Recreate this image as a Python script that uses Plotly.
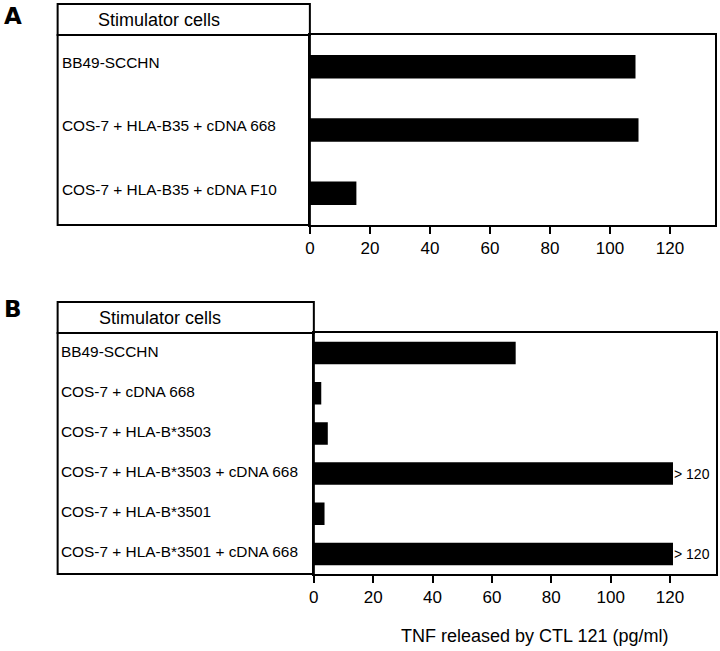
import plotly.graph_objects as go

# Panel A data
cells_a = ["BB49-SCCHN", "COS-7 + HLA-B35 + cDNA 668", "COS-7 + HLA-B35 + cDNA F10"]
tnf_a = [108.5, 109.5, 15.5]

# Panel B data
cells_b = ["BB49-SCCHN", "COS-7 + cDNA 668", "COS-7 + HLA-B*3503",
           "COS-7 + HLA-B*3503 + cDNA 668", "COS-7 + HLA-B*3501",
           "COS-7 + HLA-B*3501 + cDNA 668"]
tnf_b = [68, 2.5, 4.7, 121, 3.6, 121]
notes_b = ["", "", "", "> 120", "", "> 120"]

x_ticks = [0, 20, 40, 60, 80, 100, 120]
x_title = "TNF released by CTL 121 (pg/ml)"
header = "Stimulator cells"

W, H = 720, 651
FONT = "Liberation Sans, Arial, Helvetica, sans-serif"

def px(x):
    return x / W

def py(y):
    return 1 - y / H

fig = go.Figure()
fig.add_trace(go.Bar(x=tnf_a, y=cells_a, orientation="h", width=0.37,
                     marker=dict(color="black", line=dict(width=0)),
                     xaxis="x", yaxis="y", showlegend=False))
fig.add_trace(go.Bar(x=tnf_b, y=cells_b, orientation="h", width=0.56,
                     marker=dict(color="black", line=dict(width=0)),
                     xaxis="x2", yaxis="y2", showlegend=False))

xa_common = dict(showline=True, linecolor="black", linewidth=2, mirror=True,
                 ticks="outside", ticklen=7, tickwidth=2, tickcolor="black",
                 tickvals=x_ticks, showgrid=False, zeroline=False,
                 tickfont=dict(size=17, color="black", family=FONT))
ya_common = dict(showline=True, linecolor="black", linewidth=2, mirror=True,
                 showticklabels=False, ticks="", showgrid=False, zeroline=False)

fig.update_layout(
    width=W, height=H, margin=dict(l=0, r=0, t=0, b=0),
    paper_bgcolor="white", plot_bgcolor="white",
    font=dict(family=FONT, color="black"),
    xaxis=dict(domain=[px(307), px(715)], range=[0, 135], anchor="y", **xa_common),
    yaxis=dict(domain=[py(225), py(35)], anchor="x", autorange="reversed",
               categoryorder="array", categoryarray=cells_a, **ya_common),
    xaxis2=dict(domain=[px(311), px(716)], range=[0, 135.5], anchor="y2", **xa_common),
    yaxis2=dict(domain=[py(574), py(333)], anchor="x2", autorange="reversed",
                categoryorder="array", categoryarray=cells_b, **ya_common),
)

shapes = []
# label boxes and header boxes
for (x0, x1, yh0, yh1, yb1) in [(53, 307, 4, 35, 225), (53, 311, 302, 333, 574)]:
    shapes.append(dict(type="rect", xref="paper", yref="paper",
                       x0=px(x0), x1=px(x1), y0=py(yh1), y1=py(yh0),
                       line=dict(color="black", width=2)))
    shapes.append(dict(type="rect", xref="paper", yref="paper",
                       x0=px(x0), x1=px(x1), y0=py(yb1), y1=py(yh1),
                       line=dict(color="black", width=2)))
fig.update_layout(shapes=shapes)

ann = []
for c in cells_a:
    ann.append(dict(text=c, xref="paper", x=px(55), yref="y", y=c, xanchor="left",
                    yanchor="middle", yshift=4, showarrow=False,
                    font=dict(size=15.4, family=FONT, color="black")))
for c in cells_b:
    ann.append(dict(text=c, xref="paper", x=px(54), yref="y2", y=c, xanchor="left",
                    yanchor="middle", yshift=2, showarrow=False,
                    font=dict(size=15.4, family=FONT, color="black")))
for c, v, n in zip(cells_b, tnf_b, notes_b):
    if n:
        ann.append(dict(text=n, xref="x2", x=v, yref="y2", y=c, xanchor="left",
                        yanchor="middle", xshift=-1, showarrow=False,
                        font=dict(size=14, family=FONT, color="black")))
for letter, yy in [("A", 16), ("B", 309)]:
    ann.append(dict(text="<b>" + letter + "</b>", xref="paper", yref="paper",
                    x=0, xshift=-3, y=py(yy), xanchor="left", yanchor="middle",
                    showarrow=False,
                    font=dict(size=23, family="DejaVu Sans, sans-serif", color="black")))
for yy, xc in [(20, 155), (318, 156)]:
    ann.append(dict(text=header, xref="paper", yref="paper", x=px(xc), y=py(yy),
                    xanchor="center", yanchor="middle", showarrow=False,
                    font=dict(size=18, family=FONT, color="black")))
ann.append(dict(text=x_title, xref="paper", yref="paper", x=px(533), y=py(636),
                xanchor="center", yanchor="middle", showarrow=False,
                font=dict(size=18, family=FONT, color="black")))
fig.update_layout(annotations=ann)

fig.write_html("out.html",
               config={"displayModeBar": False},
               post_script="document.body.style.margin='0px';"
                           "document.body.style.overflow='hidden';")
